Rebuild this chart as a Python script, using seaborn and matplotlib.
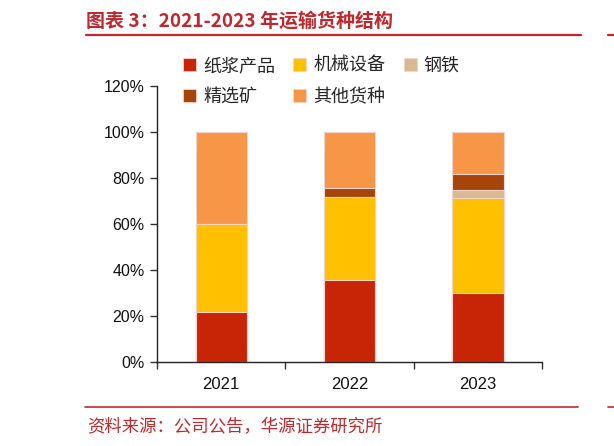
import matplotlib
matplotlib.use("Agg")
import matplotlib.pyplot as plt
import matplotlib.patches as mpatches
from matplotlib.lines import Line2D
import seaborn as sns
import pandas as pd
import numpy as np

years = ["2021", "2022", "2023"]
categories = ["纸浆产品", "机械设备", "钢铁", "精选矿", "其他货种"]
pulp = [21.7, 35.7, 30.0]
machinery = [38.3, 36.0, 41.3]
steel = [0.0, 0.0, 3.5]
ore = [0.0, 4.0, 6.9]
other = [40.0, 24.3, 18.3]
colors = ["#C82506", "#FFC000", "#D9B98F", "#A5450A", "#F79646"]
yticks = [0, 20, 40, 60, 80, 100, 120]

sns.set_theme(style="ticks")
plt.rcParams['font.family'] = ['Liberation Sans', 'Noto Sans CJK SC', 'DejaVu Sans']

series = [pulp, machinery, steel, ore, other]
rows = []
for cat, vals in zip(categories, series):
    for y, v in zip(years, vals):
        rows.append({"year": y, "cat": cat, "value": v})
df = pd.DataFrame(rows)
wide = df.pivot(index="year", columns="cat", values="value")[categories]
cum = wide.cumsum(axis=1)

fig = plt.figure(figsize=(6.14, 4.46), dpi=100)
ax = fig.add_axes([157/614, 1-362/446, (542-157)/614, (362-86)/446])

for i in range(len(categories)-1, -1, -1):
    cat = categories[i]
    d = pd.DataFrame({"year": years, "cum": cum[cat].values})
    sns.barplot(data=d, x="year", y="cum", order=years, color=colors[i],
                width=0.4, edgecolor="#F6D2CC", linewidth=0.8, saturation=1,
                ax=ax, errorbar=None)

ax.set_xlim(-0.5, 2.5)
ax.set_ylim(0, 120)
ax.set_yticks(yticks)
ax.set_yticklabels([f"{t}%" for t in yticks], fontsize=11.5, color="#111111")
ax.set_xticks([-0.5, 0.5, 1.5, 2.5])
ax.set_xticklabels([])
ax.set_xticks([0, 1, 2], minor=True)
ax.set_xticklabels(years, minor=True, fontsize=12, color="#111111")
ax.tick_params(axis="x", which="major", length=5, width=1, color="#333333", direction="out")
ax.tick_params(axis="x", which="minor", length=0, pad=11)
ax.tick_params(axis="y", length=5, width=1, color="#333333", direction="out", pad=4)
ax.set_xlabel("")
ax.set_ylabel("")
for s in ["top", "right"]:
    ax.spines[s].set_visible(False)
for s in ["left", "bottom"]:
    ax.spines[s].set_color("#222222")
    ax.spines[s].set_linewidth(1)

# legend filled row-wise: reorder for matplotlib's column-major fill (ncol=3)
order = [0, 3, 1, 4, 2]
handles = [mpatches.Patch(facecolor=colors[k], edgecolor="#F6D2CC", linewidth=0.6) for k in order]
labels = [categories[k] for k in order]
fig.legend(handles, labels, loc="upper left", ncol=3,
           bbox_to_anchor=(183/614, 1-57/446), frameon=False,
           borderpad=0, borderaxespad=0,
           prop={"family": ["Noto Sans CJK SC"], "size": 13},
           handlelength=0.72, handleheight=0.72, handletextpad=0.4,
           columnspacing=1.0, labelspacing=0.72)

red = "#C0282D"
fig.text(86/614, 1-21.5/446, "图表 3：2021-2023 年运输货种结构", color=red,
         fontsize=13.7, fontweight="bold", va="center", ha="left",
         family=["Noto Sans CJK SC", "DejaVu Sans"])
fig.add_artist(Line2D([86/614, 581/614], [1-35/446, 1-35/446], color=red, lw=1.6,
                      transform=fig.transFigure))
fig.add_artist(Line2D([608/614, 1.0], [1-35/446, 1-35/446], color=red, lw=1.6,
                      transform=fig.transFigure))
fig.add_artist(Line2D([85/614, 578/614], [1-407/446, 1-407/446], color=red, lw=1.2,
                      transform=fig.transFigure))
fig.add_artist(Line2D([608/614, 1.0], [1-407/446, 1-407/446], color=red, lw=1.2,
                      transform=fig.transFigure))
fig.text(87/614, 1-427/446, "资料来源：公司公告，华源证券研究所", color=red,
         fontsize=12.5, va="center", ha="left",
         family=["Noto Sans CJK SC", "DejaVu Sans"])

fig.savefig("out.png", dpi=100)
